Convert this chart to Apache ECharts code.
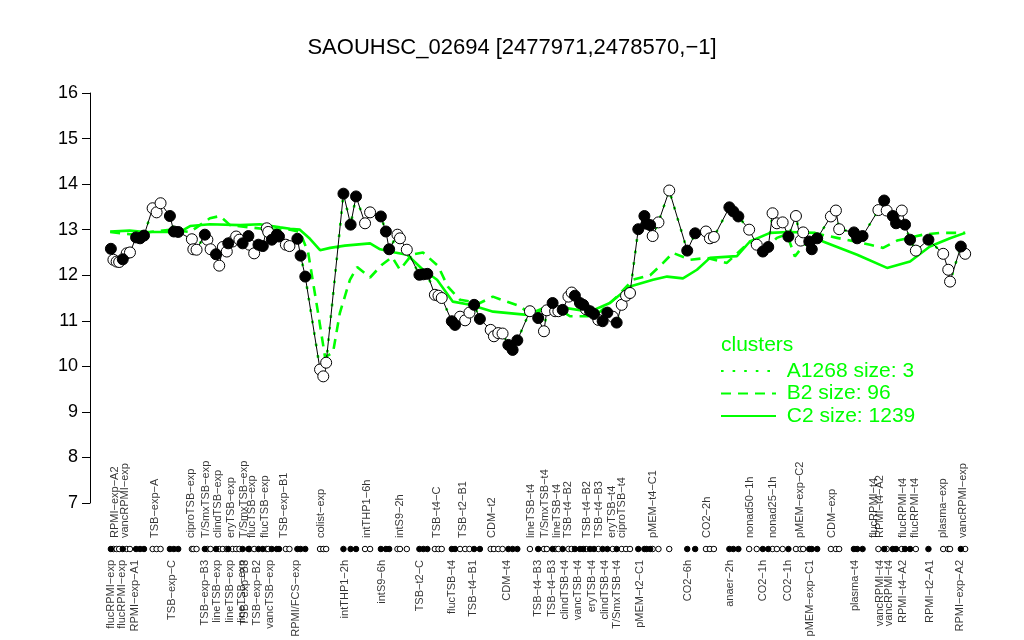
<!DOCTYPE html>
<html><head><meta charset="utf-8">
<script src="https://cdn.jsdelivr.net/npm/echarts@6/dist/echarts.min.js"></script>
<style>html,body{margin:0;padding:0;background:#fff}#c{width:1024px;height:640px}</style>
</head><body><div id="c"></div>
<script>
// sample positions (slot units along the sample order) and log2 expression values
const xs = [5.8,6.5,7.4,8.1,9.1,10.2,11.1,12.8,13.9,15.0,17.4,18.5,19.6,22.2,23.3,24.5,28.3,28.7,29.6,31.9,32.6,33.5,35.0,35.9,36.9,38.0,38.4,39.6,40.6,41.5,42.4,44.0,44.3,45.6,46.8,48.0,49.1,49.5,50.5,51.9,52.5,54.4,55.4,57.6,58.5,59.8,63.9,64.8,65.6,70.4,72.4,73.9,76.4,77.8,80.8,82.2,83.1,85.4,86.1,88.0,91.5,92.6,93.7,95.8,96.8,97.7,100.5,101.4,102.8,104.2,105.4,106.7,108.3,111.3,112.2,113.4,114.6,116.2,117.4,118.7,122.2,124.5,126.1,126.9,128.5,129.2,130.1,131.3,132.9,133.8,134.7,136.1,137.0,137.8,138.9,140.0,141.2,142.4,143.7,145.2,146.3,147.7,148.9,150.0,152.3,154.0,154.6,155.6,156.3,157.9,160.9,165.9,168.1,171.1,172.2,173.3,177.6,178.7,180.1,183.1,185.2,186.9,188.4,189.6,190.8,192.4,194.0,196.1,197.4,198.1,199.8,200.5,202.0,205.8,207.2,208.1,212.2,213.1,214.6,219.0,220.6,221.3,223.0,223.9,225.5,226.4,227.8,229.4,232.9,237.0,238.4,238.9,241.9,243.1];
const vals = [12.58,12.34,12.30,12.29,12.35,12.48,12.50,12.83,12.81,12.87,13.47,13.38,13.58,13.30,12.96,12.95,12.79,12.57,12.56,12.89,12.78,12.57,12.46,12.21,12.62,12.52,12.70,12.74,12.85,12.78,12.70,12.86,12.67,12.48,12.67,12.64,13.03,12.95,12.78,12.89,12.85,12.67,12.64,12.80,12.43,11.97,9.93,9.78,10.08,13.79,13.11,13.73,13.14,13.38,13.29,12.96,12.57,12.89,12.81,12.56,12.01,12.02,12.03,11.57,11.55,11.50,10.99,10.91,11.09,11.01,11.18,11.35,11.04,10.80,10.66,10.73,10.72,10.47,10.36,10.57,11.21,11.06,10.77,11.23,11.39,11.21,11.21,11.24,11.53,11.62,11.55,11.39,11.35,11.25,11.21,11.15,11.02,10.99,11.18,11.09,10.96,11.35,11.55,11.61,13.01,13.30,13.13,13.10,12.86,13.16,13.86,12.54,12.92,12.96,12.81,12.84,13.49,13.40,13.29,13.00,12.67,12.52,12.62,13.36,13.14,13.16,12.85,13.30,12.76,12.94,12.74,12.57,12.81,13.29,13.42,13.01,12.94,12.81,12.86,13.43,13.64,13.42,13.30,13.14,13.42,13.11,12.78,12.54,12.78,12.47,12.12,11.86,12.63,12.47];
const filled = [1,0,0,0,1,0,0,1,1,1,0,0,0,1,1,1,0,0,0,1,0,0,1,0,0,0,1,0,0,0,1,1,0,0,1,1,0,0,1,1,1,0,0,1,1,1,0,0,0,1,1,1,0,0,1,1,1,0,0,0,1,1,1,0,0,0,1,1,0,0,0,1,1,0,0,0,0,1,1,1,0,1,0,0,1,0,0,1,0,0,1,1,1,0,1,1,0,1,1,0,1,0,0,0,1,1,1,1,0,0,0,1,1,0,0,0,1,1,1,0,0,1,1,0,0,0,1,0,0,0,1,1,1,0,0,0,1,1,1,0,1,0,1,1,0,1,1,0,1,0,0,0,1,0];

// cluster mean profiles
const c2X = [5.6,11,15.3,25,27.8,33.3,41.7,47.2,52.8,55.6,58.3,61.1,63.9,66.7,70.8,77.8,80.6,84.7,88.1,92.5,96.4,100.8,105.6,112,121.4,126.9,130.6,138.9,144.4,150,156.4,160.3,164.7,168.6,172.2,179.7,183.3,188.9,194.4,201.4,203.6,213.1,221.4,227.8,233.3,238.9,243.1];
const c2Y = [12.96,12.98,12.95,12.95,13.08,13.12,13.10,13.12,13.05,13.02,13.00,12.80,12.55,12.60,12.65,12.70,12.57,12.50,12.45,12.12,11.90,11.42,11.35,11.20,11.13,11.31,11.30,11.20,11.39,11.75,11.90,11.97,11.93,12.12,12.38,12.42,12.74,12.93,12.95,12.93,12.74,12.45,12.16,12.30,12.63,12.81,12.93];
const b2X = [5.6,11.1,16.7,22.2,27.8,33.3,36.1,38.9,44.4,50,55.6,58.3,60.6,63.3,65.3,67.5,69.4,72.2,74.2,77.8,81.1,83.9,86.1,89.4,92.5,96.7,99.4,102.8,108.3,111.9,115.8,119.4,123.1,127.8,133.3,138.9,141.7,146.4,150.8,155.6,159.2,161.9,166.7,171.4,176.9,183.3,186.9,190.8,193.6,195.8,200.8,207.5,216.7,220.3,224.2,231.4,236.1,243.1];
const b2Y = [12.95,12.90,12.95,13.00,12.95,13.25,13.30,13.10,13.05,13.00,13.00,12.95,12.50,11.20,10.20,10.30,11.17,11.90,12.18,11.95,12.23,12.40,12.12,12.45,12.50,12.20,11.75,11.46,11.39,11.53,11.42,11.32,11.10,11.39,11.10,11.10,11.20,11.53,11.90,12.00,12.27,12.49,12.34,12.38,12.27,12.74,12.52,12.82,12.90,12.41,12.93,12.82,12.67,12.60,12.76,12.89,12.93,12.93];

const yTicks = [7,8,9,10,11,12,13,14,15,16];

const topLabelX = [6.9,9.7,18.1,28.1,32.2,35.6,39.2,42.8,45,48.6,53.9,64.2,76.9,86.1,96.3,103.5,111.6,122.5,126.4,129.6,132.9,138,141.5,144.9,147.7,156.5,171.3,183.3,189.6,197.2,206,217.8,219.4,225.9,229.2,237,242.6];
const topLabels = ["RPMI-exp-A2","vancRPMI-exp","TSB-exp-A","ciproTSB-exp","T/SmxTSB-exp","clindTSB-exp","eryTSB-exp","T/SmxTSB-exp","flucTSB-exp","flucTSB-exp","TSB-exp-B1","colist-exp","intTHP1-6h","intS9-2h","TSB-t4-C","TSB-t2-B1","CDM-t2","lineTSB-t4","T/SmxTSB-t4","lineTSB-t4","TSB-t4-B2","TSB-t4-B2","TSB-t4-B3","eryTSB-t4","ciproTSB-t4","pMEM-t4-C1","CO2-2h","nonad50-1h","nonad25-1h","pMEM-exp-C2","CDM-exp","flucRPMI-t4","RPMI-t4-A2","flucRPMI-t4","flucRPMI-t4","plasma-exp","vancRPMI-exp"];
const botLabelX = [5.8,9,12.4,22.8,31.9,35.3,38.9,42.1,43.1,46.4,50,57.2,70.8,81,91.7,100.5,106.5,115.7,124.5,128.3,131.9,135.6,139.4,143.1,146.3,152.8,166.2,177.8,187,193.8,200,212.5,219.4,221.9,225.9,233.3,241.7];
const botLabels = ["flucRPMI-exp","flucRPMI-exp","RPMI-exp-A1","TSB-exp-C","TSB-exp-B3","lineTSB-exp","lineTSB-exp","lineTSB-exp","TSB-exp-B3","TSB-exp-B2","vancTSB-exp","RPMI/FCS-exp","intTHP1-2h","intS9-6h","TSB-t2-C","flucTSB-t4","TSB-t4-B1","CDM-t4","TSB-t4-B3","TSB-t4-B3","clindTSB-t4","vancTSB-t4","eryTSB-t4","clindTSB-t4","T/SmxTSB-t4","pMEM-t2-C1","CO2-6h","anaer-2h","CO2-1h","CO2-1h","pMEM-exp-C1","plasma-t4","vancRPMI-t4","vancRPMI-t4","RPMI-t4-A2","RPMI-t2-A1","RPMI-exp-A2"];

const titleText = "SAOUHSC_02694 [2477971,2478570,\u22121]";
const FONT = "Liberation Sans, Arial, Helvetica, sans-serif";
const GREEN = "#00ff00";
const minus = s => s.replace(/-/g, "\u2212");

const pts = xs.map((x, i) => [x, vals[i]]);
const openPts = pts.filter((p, i) => !filled[i]);
const fillPts = pts.filter((p, i) => filled[i]);
const rowOpen = xs.filter((x, i) => !filled[i]).map(x => [x, 0.5]);
const rowFill = xs.filter((x, i) => filled[i]).map(x => [x, 0.5]);

const chart = echarts.init(document.getElementById('c'), null, {renderer: 'canvas'});
const XMIN = 0, XMAX = 250;
chart.setOption({
  animation: false,
  backgroundColor: '#fff',
  textStyle: {fontFamily: FONT},
  title: [
    {text: titleText, left: 'center', top: 32, textStyle: {fontSize: 22, fontWeight: 'normal', color: '#000', fontFamily: FONT}},
    {text: 'clusters', left: 716, top: 330, textStyle: {fontSize: 21, fontWeight: 'normal', color: GREEN, fontFamily: FONT}}
  ],
  legend: {
    orient: 'vertical', left: 715, top: 355, itemWidth: 55, itemHeight: 14, itemGap: 0.5,
    data: ['A1268 size: 3', 'B2 size: 96', 'C2 size: 1239'],
    formatter: n => ' ' + n,
    itemStyle: {opacity: 0},
    textStyle: {fontSize: 21, color: GREEN, fontFamily: FONT, lineHeight: 22},
    selectedMode: false
  },
  grid: [
    {left: 90, top: 93, width: 900, height: 410},
    {left: 90, top: 538, width: 900, height: 22}
  ],
  xAxis: [
    {type: 'value', gridIndex: 0, min: XMIN, max: XMAX, show: false},
    {type: 'value', gridIndex: 1, min: XMIN, max: XMAX, show: false}
  ],
  yAxis: [
    {type: 'value', gridIndex: 0, min: yTicks[0], max: yTicks[yTicks.length - 1], interval: 1,
     splitLine: {show: false},
     axisLine: {show: true, lineStyle: {color: '#000', width: 1}},
     axisTick: {show: true, length: 8, lineStyle: {color: '#000'}},
     axisLabel: {fontSize: 18, color: '#000', margin: 12, fontFamily: FONT}},
    {type: 'value', gridIndex: 1, min: 0, max: 1, show: false}
  ],
  series: [
    {name: 'C2 size: 1239', type: 'line', data: c2X.map((x, i) => [x, c2Y[i]]), symbol: 'none',
     lineStyle: {color: GREEN, width: 2.6}, itemStyle: {color: GREEN}, z: 1},
    {name: 'B2 size: 96', type: 'line', data: b2X.map((x, i) => [x, b2Y[i]]), symbol: 'none',
     lineStyle: {color: GREEN, width: 2.6, type: [10, 7]}, itemStyle: {color: GREEN}, z: 1},
    {name: 'A1268 size: 3', type: 'line', data: pts, symbol: 'none',
     lineStyle: {color: GREEN, width: 2.6, type: [2.6, 9]}, itemStyle: {color: GREEN}, z: 1},
    {type: 'line', data: pts, symbol: 'none', lineStyle: {color: '#000', width: 1}, z: 2, silent: true},
    {type: 'scatter', data: openPts, symbol: 'circle', symbolSize: 11,
     itemStyle: {color: '#fff', borderColor: '#000', borderWidth: 1, opacity: 1}, z: 3},
    {type: 'scatter', data: fillPts, symbol: 'circle', symbolSize: 11,
     itemStyle: {color: '#000', borderColor: '#000', borderWidth: 1, opacity: 1}, z: 3},
    {type: 'scatter', xAxisIndex: 1, yAxisIndex: 1, data: rowOpen, symbol: 'circle', symbolSize: 5.5,
     itemStyle: {color: '#fff', borderColor: '#000', borderWidth: 1, opacity: 1}},
    {type: 'scatter', xAxisIndex: 1, yAxisIndex: 1, data: rowFill, symbol: 'circle', symbolSize: 5.5,
     itemStyle: {color: '#000', borderColor: '#000', borderWidth: 1, opacity: 1}},
    {type: 'scatter', xAxisIndex: 1, yAxisIndex: 1, symbolSize: 0, silent: true,
     data: topLabelX.map((x, i) => ({value: [x, 1], name: topLabels[i]})),
     label: {show: true, position: 'inside', rotate: 90, align: 'left', verticalAlign: 'middle',
             formatter: p => minus(p.name), fontSize: 11, color: '#000', fontFamily: FONT}},
    {type: 'scatter', xAxisIndex: 1, yAxisIndex: 1, symbolSize: 0, silent: true,
     data: botLabelX.map((x, i) => ({value: [x, 0], name: botLabels[i]})),
     label: {show: true, position: 'inside', rotate: 90, align: 'right', verticalAlign: 'middle',
             formatter: p => minus(p.name), fontSize: 11, color: '#000', fontFamily: FONT}}
  ]
});
</script></body></html>
